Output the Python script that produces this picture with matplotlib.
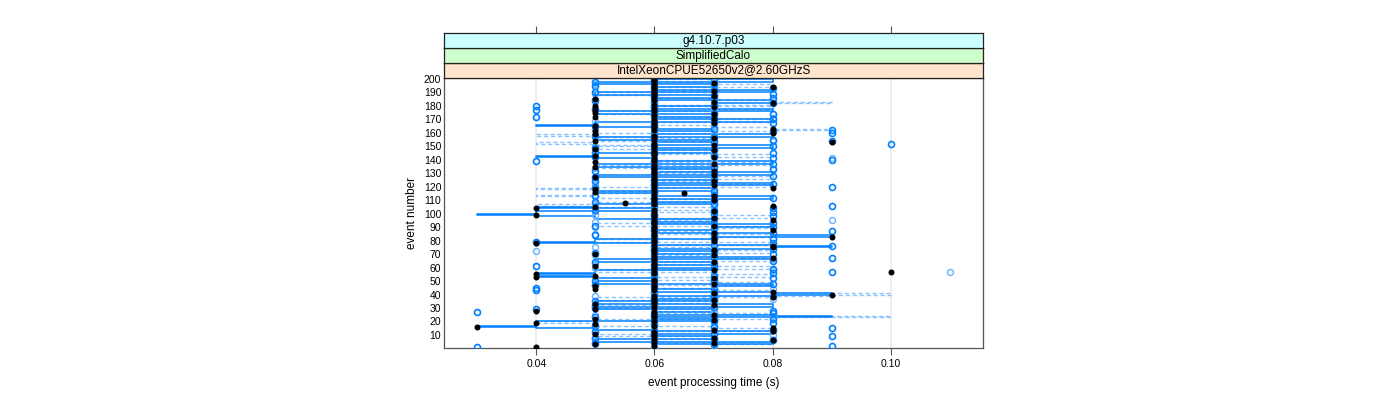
import numpy as np
import matplotlib.pyplot as plt

plt.rcParams['font.family'] = ['Liberation Sans', 'DejaVu Sans']

# event numbers 1..200
eventos = np.arange(1, 201)

# tiempos en ms por evento
negros = [
    40, 60, 50, 70, 60, 80, 60, 70, 60, 60,
    50, 60, 80, 70, 80, 30, 60, 50, 40, 60,
    70, 50, 60, 60, 70, 60, 60, 40, 50, 60,
    60, 70, 50, 60, 60, 70, 60, 80, 60, 90,
    70, 80, 60, 50, 60, 50, 60, 70, 60, 60,
    60, 70, 40, 50, 40, 60, 100, 70, 60, 60,
    50, 60, 60, 70, 60, 60, 80, 60, 70, 50,
    60, 60, 70, 60, 80, 80, 60, 40, 60, 70,
    60, 70, 90, 60, 60, 70, 60, 80, 60, 60,
    70, 60, 60, 60, 80, 60, 70, 60, 40, 60,
    60, 70, 60, 40, 50, 80, 60, 55, 60, 70,
    60, 60, 70, 60, 65, 50, 60, 50, 80, 60,
    70, 60, 60, 70, 60, 60, 50, 60, 70, 60,
    60, 70, 60, 60, 50, 60, 70, 50, 60, 60,
    60, 70, 50, 60, 60, 60, 70, 50, 60, 60,
    70, 60, 90, 50, 60, 70, 60, 60, 50, 80,
    50, 60, 80, 60, 50, 60, 70, 60, 60, 70,
    60, 50, 60, 70, 50, 60, 50, 60, 70, 50,
    60, 80, 70, 60, 50, 60, 70, 60, 60, 60,
    70, 60, 60, 80, 60, 60, 70, 60, 60, 60,
]

circulos = [
    30, 90, 70, 50, 60, 80, 70, 50, 90, 60,
    70, 50, 60, 80, 90, 70, 50, 60, 80, 70,
    60, 80, 50, 70, 60, 80, 30, 80, 40, 50,
    70, 50, 60, 60, 50, 70, 60, 70, 80, 70,
    60, 70, 40, 70, 40, 60, 50, 80, 70, 50,
    70, 80, 60, 70, 60, 80, 90, 60, 80, 70,
    40, 60, 70, 50, 80, 60, 90, 70, 60, 80,
    50, 70, 60, 80, 60, 90, 70, 80, 40, 60,
    80, 70, 60, 50, 70, 80, 90, 60, 70, 80,
    50, 70, 80, 60, 60, 70, 60, 80, 60, 70,
    80, 70, 50, 80, 60, 90, 70, 60, 50, 70,
    60, 80, 50, 70, 60, 60, 70, 60, 50, 90,
    60, 80, 70, 50, 60, 70, 50, 80, 60, 70,
    70, 50, 80, 60, 70, 60, 80, 60, 40, 90,
    80, 50, 70, 60, 80, 50, 60, 70, 50, 80,
    60, 100, 70, 90, 80, 60, 70, 50, 60, 90,
    80, 90, 70, 60, 50, 60, 80, 60, 70, 80,
    70, 40, 60, 80, 70, 60, 40, 50, 60, 40,
    70, 80, 60, 50, 70, 80, 60, 70, 80, 50,
    60, 70, 80, 60, 50, 70, 60, 50, 60, 70,
]

circulos_claros = [
    60, 70, 50, 60, 70, 60, 50, 70, 60, 80,
    60, 70, 60, 50, 60, 70, 60, 70, 60, 50,
    70, 60, 60, 80, 50, 60, 70, 60, 70, 60,
    50, 60, 70, 60, 70, 60, 80, 60, 50, 60,
    70, 60, 60, 80, 60, 70, 60, 60, 70, 60,
    60, 50, 70, 60, 70, 60, 110, 80, 60, 50,
    60, 70, 50, 60, 70, 80, 60, 60, 50, 70,
    60, 40, 60, 70, 50, 60, 80, 60, 70, 60,
    70, 60, 60, 70, 50, 60, 60, 70, 60, 50,
    60, 70, 60, 50, 90, 60, 70, 60, 50, 60,
    60, 50, 70, 60, 70, 60, 50, 60, 70, 60,
    70, 60, 60, 50, 70, 60, 60, 70, 60, 60,
    50, 60, 70, 60, 70, 50, 60, 70, 60, 60,
    60, 70, 80, 50, 60, 70, 60, 60, 70, 60,
    90, 60, 70, 50, 60, 70, 60, 60, 70, 50,
    60, 70, 60, 80, 70, 60, 50, 60, 70, 60,
    60, 70, 50, 60, 70, 60, 60, 70, 50, 60,
    80, 60, 70, 60, 60, 70, 50, 60, 70, 60,
    60, 70, 50, 80, 60, 70, 60, 60, 50, 70,
    60, 70, 60, 60, 70, 50, 60, 70, 60, 60,
]

linea_solida = [
    60, 60, 80, 80, 50, 50, 70, 70, 60, 60,
    80, 80, 60, 50, 40, 30, 40, 40, 40, 70,
    70, 60, 90, 80, 60, 60, 70, 70, 50, 50,
    80, 80, 50, 50, 70, 70, 60, 60, 80, 90,
    80, 60, 60, 70, 70, 80, 80, 50, 50, 60,
    60, 50, 40, 50, 40, 50, 50, 70, 70, 60,
    60, 70, 70, 50, 50, 80, 80, 60, 60, 70,
    70, 60, 60, 80, 90, 80, 60, 40, 50, 50,
    70, 70, 90, 80, 80, 60, 60, 70, 70, 80,
    80, 60, 60, 70, 70, 50, 50, 40, 30, 40,
    40, 60, 60, 40, 50, 50, 70, 70, 60, 60,
    80, 80, 60, 60, 50, 50, 70, 70, 60, 60,
    80, 80, 60, 60, 70, 70, 50, 50, 80, 80,
    60, 60, 70, 70, 50, 50, 80, 80, 60, 60,
    50, 40, 50, 50, 70, 70, 60, 60, 80, 80,
    60, 60, 70, 70, 50, 50, 80, 80, 60, 60,
    70, 70, 60, 50, 40, 50, 50, 80, 80, 60,
    60, 70, 70, 50, 50, 80, 80, 60, 60, 70,
    70, 80, 80, 60, 60, 70, 70, 50, 50, 80,
    80, 60, 60, 70, 70, 50, 50, 80, 80, 60,
]

linea_discontinua = [
    70, 70, 80, 80, 60, 60, 70, 70, 50, 50,
    60, 60, 80, 80, 70, 70, 50, 50, 40, 50,
    50, 80, 100, 80, 80, 60, 60, 70, 70, 50,
    50, 60, 60, 70, 70, 50, 50, 80, 90, 100,
    80, 80, 70, 70, 60, 60, 80, 80, 70, 70,
    60, 60, 80, 80, 70, 70, 50, 50, 80, 80,
    70, 70, 60, 60, 80, 80, 70, 70, 60, 60,
    80, 80, 70, 70, 60, 60, 80, 80, 50, 50,
    70, 70, 80, 80, 60, 60, 70, 70, 80, 80,
    50, 50, 70, 70, 60, 60, 80, 80, 70, 70,
    60, 60, 70, 70, 50, 40, 50, 50, 70, 70,
    60, 50, 40, 50, 60, 60, 50, 40, 50, 80,
    80, 70, 70, 60, 60, 80, 80, 70, 70, 60,
    60, 70, 70, 50, 50, 80, 80, 60, 60, 70,
    70, 80, 80, 60, 60, 70, 70, 50, 50, 60,
    50, 40, 50, 70, 70, 60, 50, 40, 50, 70,
    80, 90, 80, 70, 70, 60, 60, 80, 80, 70,
    70, 60, 60, 50, 50, 70, 70, 80, 80, 60,
    80, 90, 80, 70, 70, 60, 60, 50, 50, 70,
    70, 60, 60, 80, 80, 70, 70, 60, 60, 70,
]

tiras = ["g4.10.7.p03", "SimplifiedCalo", "IntelXeonCPUE52650v2@2.60GHzS"]
colores_tiras = ["#ccffff", "#ccffcc", "#ffe5cc"]

azul = "#0080ff"


def escalones(valores):
    # linea en escalera: vertical en la columna, luego horizontal en el evento
    x = np.repeat(np.array(valores) / 1000.0, 2)[:-1]
    y = np.repeat(eventos, 2)[1:]
    return x, y


fig = plt.figure(figsize=(14, 4), dpi=100)
ax = fig.add_axes([444 / 1400, 1 - 348 / 400, 539 / 1400, 270 / 400])

xlim = (0.0244, 0.1156)
ax.set_xlim(xlim)
ax.set_ylim(0.3, 200.7)

for xv in [0.04, 0.06, 0.08, 0.10]:
    ax.axvline(xv, color="#ebebeb", lw=1.2, zorder=0)

xd, yd = escalones(linea_discontinua)
ax.plot(xd, yd, color="#8cc4ff", lw=1.0, ls=(0, (3, 2)), zorder=2)
xs, ys = escalones(linea_solida)
ax.plot(xs, ys, color=azul, lw=1.1, zorder=3)

ms = lambda v: np.array(v) / 1000.0
ax.plot(ms(circulos_claros), eventos, ls="none", marker="o", ms=4.3, mfc="none",
        mec="#66b3ff", mew=1.0, zorder=4)
ax.plot(ms(circulos), eventos, ls="none", marker="o", ms=4.3, mfc="none",
        mec=azul, mew=1.2, zorder=5)
ax.plot(ms(negros), eventos, ls="none", marker="o", ms=3.3, color="black", zorder=6)

ax.set_xticks([0.04, 0.06, 0.08, 0.10])
ax.set_xticklabels(["0.04", "0.06", "0.08", "0.10"], fontsize=7.5)
ax.set_yticks(range(10, 201, 10))
ax.set_yticklabels([str(v) for v in range(10, 201, 10)], fontsize=7.5)
ax.tick_params(axis="x", direction="out", length=5, width=0.8, color="#555555", pad=3)
ax.tick_params(axis="y", direction="out", length=0, pad=2)
for s in ax.spines.values():
    s.set_color("#555555")
    s.set_linewidth(0.9)
ax.set_xlabel("event processing time (s)", fontsize=8.5, labelpad=6)
ax.set_ylabel("event number", fontsize=8.5, labelpad=4)

# tiras (strips) encima del panel
alto = 15 / 400
base = 1 - 78 / 400
for i, (txt, col) in enumerate(zip(reversed(tiras), reversed(colores_tiras))):
    sa = fig.add_axes([444 / 1400, base + i * alto, 539 / 1400, alto])
    sa.set_facecolor(col)
    sa.set_xlim(xlim)
    sa.set_ylim(0, 1)
    sa.set_yticks([])
    for s in sa.spines.values():
        s.set_color("#222222")
        s.set_linewidth(0.9)
    sa.text(0.5, 0.5, txt, transform=sa.transAxes, ha="center", va="center", fontsize=8.5)
    if i == len(tiras) - 1:
        sa.set_xticks([0.04, 0.06, 0.08, 0.10])
        sa.tick_params(axis="x", top=True, bottom=False, labeltop=False, labelbottom=False,
                       direction="out", length=5, width=0.8, color="#555555")
    else:
        sa.set_xticks([])

plt.savefig("out.png", dpi=100)
